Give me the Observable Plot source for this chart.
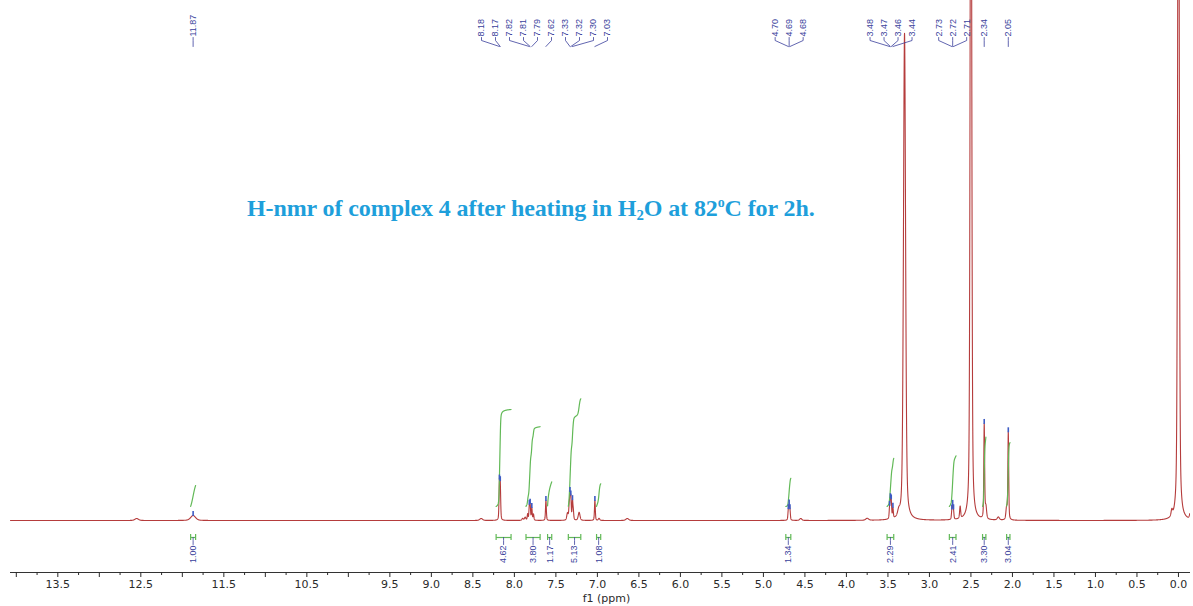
<!DOCTYPE html>
<html>
<head>
<meta charset="utf-8">
<script src="https://cdn.jsdelivr.net/npm/d3@7"></script>
<script src="https://cdn.jsdelivr.net/npm/@observablehq/plot@0.6"></script>
<style>
  html, body { margin: 0; padding: 0; background: #fff; }
  #wrap { position: relative; width: 1193px; height: 606px; overflow: hidden; }
  #title {
    position: absolute; left: 247px; top: 195px; white-space: nowrap;
    font-family: "Liberation Serif", "Times New Roman", serif; font-weight: bold;
    font-size: 24px; line-height: 26px; color: #1e9fdb; letter-spacing: -0.1px;
  }
  #title sub { font-size: 62%; vertical-align: baseline; position: relative; top: 0.28em; }
  #title sup { font-size: 58%; vertical-align: baseline; position: relative; top: -0.62em; }
</style>
</head>
<body>
<div id="wrap">
  <div id="chart"></div>
  <div id="title">H-nmr of complex 4 after heating in H<sub>2</sub>O at 82<sup>o</sup>C for 2h.</div>
</div>
<script>
// ---------------- data ----------------
// spectrum peaks: chemical shift (ppm), height (intensity units), line width FWHM (ppm)
const peakPpm    = [12.55, 11.87, 8.40, 8.18, 8.17, 7.90, 7.87, 7.84, 7.82, 7.81, 7.79, 7.77, 7.62, 7.36, 7.34, 7.33, 7.32, 7.30, 7.29, 7.22, 7.03, 6.98, 6.64,
                    4.70, 4.69, 4.68, 4.55, 3.75, 3.48, 3.47, 3.46, 3.44, 3.37, 3.30, 2.73, 2.72, 2.71, 2.63, 2.50, 2.34, 2.32, 2.17, 2.07, 2.05, 0.08, 0.00, -0.14];
const peakHeight = [2, 5, 2, 35, 33, 2, 3, 6, 13, 14, 12, 6, 20, 7, 12, 22, 20, 18, 8, 8, 20, 2, 2,
                    9, 13, 9, 2, 2, 10, 16, 16, 10, 5, 487, 8, 12, 8, 12, 900, 94, 12, 3, 12, 87, 6, 900, 5];
const peakWidth  = [0.05, 0.07, 0.04, 0.012, 0.012, 0.02, 0.02, 0.012, 0.012, 0.012, 0.012, 0.012, 0.012, 0.02, 0.012, 0.012, 0.012, 0.012, 0.012, 0.025, 0.012, 0.02, 0.04,
                    0.012, 0.012, 0.012, 0.03, 0.04, 0.012, 0.012, 0.012, 0.012, 0.03, 0.03, 0.012, 0.012, 0.012, 0.015, 0.021, 0.012, 0.02, 0.03, 0.02, 0.012, 0.02, 0.021, 0.02];

// peak-picking labels (ppm)
const labelPpm = [11.87, 8.18, 8.17, 7.82, 7.81, 7.79, 7.62, 7.33, 7.32, 7.30, 7.03,
                  4.70, 4.69, 4.68, 3.48, 3.47, 3.46, 3.44, 2.73, 2.72, 2.71, 2.34, 2.05];

// integrals
const integralFrom  = [11.90, 8.22, 7.86, 7.60, 7.35, 7.01, 4.73, 3.51, 2.76, 2.36, 2.07];
const integralTo    = [11.84, 8.04, 7.69, 7.55, 7.20, 6.96, 4.67, 3.43, 2.68, 2.32, 2.03];
const integralValue = [1.00, 4.62, 3.80, 1.17, 5.13, 1.08, 1.34, 2.29, 2.41, 3.30, 3.04];

// axis
const tickLabelled = [13.5, 12.5, 11.5, 10.5, 9.5, 9.0, 8.5, 8.0, 7.5, 7.0, 6.5, 6.0, 5.5, 5.0, 4.5, 4.0, 3.5, 3.0, 2.5, 2.0, 1.5, 1.0, 0.5, 0.0];
const axisTitle = "f1 (ppm)";

// ---------------- layout / style ----------------
const W = 1193, H = 606;
const mL = 10, mR = 3, mT = 0, mB = 34;
const xDomain = [14.07, -0.145];
const yDomain = [-52, 520];
const RED = "#b53c3c", GREEN = "#62b957", BLUE = "#3a3f9c";
const ETA = 0.4;

const xs = d3.scaleLinear(xDomain, [mL, W - mR]);
const ys = d3.scaleLinear(yDomain, [H - mB, mT]);

function shape(x, x0, h, w) {
  const t = (x - x0) / (w / 2);
  return h * (ETA / (1 + t * t) + (1 - ETA) * Math.exp(-Math.LN2 * t * t));
}
function spec(x) {
  let s = 0;
  for (let i = 0; i < peakPpm.length; i++) s += shape(x, peakPpm[i], peakHeight[i], peakWidth[i]);
  return s;
}

// spectrum trace
const step = 0.001;
const grid = d3.range(xDomain[0], xDomain[1], -step).concat(peakPpm);
grid.sort((a, b) => b - a);
const spectrum = grid.map(p => ({ppm: p, v: spec(p)}));

// spread labels so they do not overlap (pixel gap)
function spread(ideal, gap) {
  let groups = ideal.map((v, i) => ({s: i, e: i}));
  const center = g => d3.mean(ideal.slice(g.s, g.e + 1));
  let changed = true;
  while (changed) {
    changed = false;
    for (let k = 0; k < groups.length - 1; k++) {
      const a = groups[k], b = groups[k + 1];
      const aEnd = center(a) + (a.e - a.s) * gap / 2;
      const bStart = center(b) - (b.e - b.s) * gap / 2;
      if (bStart - aEnd < gap) {
        groups.splice(k, 2, {s: a.s, e: b.e});
        changed = true;
        break;
      }
    }
  }
  const out = [];
  for (const g of groups) {
    const c = center(g), n = g.e - g.s + 1;
    for (let i = 0; i < n; i++) out.push(c + (i - (n - 1) / 2) * gap);
  }
  return out;
}

// top labels
const topPx = spread(labelPpm.map(p => xs(p)), 14);
const topLabels = labelPpm.map((p, i) => ({ppm: p, lx: xs.invert(topPx[i]), text: p.toFixed(2)}));
const yText = ys.invert(36), yBend = ys.invert(40), yEnd = ys.invert(46);
const topConn = topLabels.flatMap((d, i) => [
  {id: i, x: d.lx, y: ys.invert(37)}, {id: i, x: d.lx, y: yBend}, {id: i, x: d.ppm, y: yEnd}
]);
const apexMarks = labelPpm.map(p => ({ppm: p, y1: spec(p) - 1, y2: spec(p) + 4}));

// integral curves
const integralCurves = [];
integralFrom.forEach((a, k) => {
  const b = integralTo[k];
  const pts = d3.range(a, b - 1e-9, -0.0005);
  const vals = pts.map(spec);
  const total = d3.sum(vals);
  let acc = 0;
  const base = 14, rise = integralValue[k] * 21;
  pts.forEach((p, j) => {
    acc += vals[j];
    integralCurves.push({id: k, ppm: p, v: base + rise * acc / total});
  });
});

// integral brackets & labels
const yBr = ys.invert(537);
const integrals = integralValue.map((v, k) => ({
  from: integralFrom[k], to: integralTo[k], mid: (integralFrom[k] + integralTo[k]) / 2, text: v.toFixed(2)
}));
const intPx = spread(integrals.map(d => xs(d.mid)), 12);
integrals.forEach((d, k) => d.lx = xs.invert(intPx[k]));
const intConn = integrals.flatMap((d, k) => [
  {id: k, x: d.mid, y: yBr}, {id: k, x: d.mid, y: ys.invert(540)}, {id: k, x: d.lx, y: ys.invert(544)}
]);
const caps = integrals.flatMap(d => [{x: d.from}, {x: d.to}]);

// ticks
const allTicks = d3.range(0, 14.01, 0.25).map(v => Math.round(v * 100) / 100);
const halfTicks = allTicks.filter(v => Math.abs(v * 2 - Math.round(v * 2)) < 1e-6);
const quarterTicks = allTicks.filter(v => !halfTicks.includes(v));
const labelledSet = new Set(tickLabelled.map(v => Math.round(v * 10)));

const chart = Plot.plot({
  width: W, height: H,
  marginLeft: mL, marginRight: mR, marginTop: mT, marginBottom: mB,
  x: {domain: xDomain},
  y: {domain: yDomain, axis: null},
  style: {fontFamily: "DejaVu Sans, Verdana, sans-serif", fontSize: "11px", color: "#2a2a2a", background: "#fff"},
  marks: [
    // spectrum
    Plot.line(spectrum, {x: "ppm", y: "v", stroke: RED, strokeWidth: 1.1, clip: true}),
    // integral curves
    Plot.line(integralCurves, {x: "ppm", y: "v", z: "id", stroke: GREEN, strokeWidth: 1.2, clip: true}),
    // apex markers
    Plot.ruleX(apexMarks, {x: "ppm", y1: "y1", y2: "y2", stroke: "#3d5bc4", strokeWidth: 1.6, clip: true}),
    // top labels
    Plot.line(topConn, {x: "x", y: "y", z: "id", stroke: BLUE, strokeWidth: 0.8}),
    Plot.text(topLabels, {x: "lx", y: () => yText, text: "text", rotate: -90, textAnchor: "start",
      fontSize: 9, fill: BLUE, fontFamily: "Liberation Sans, Arial, sans-serif"}),
    // integral brackets
    Plot.link(integrals, {x1: "from", x2: "to", y1: () => yBr, y2: () => yBr, stroke: GREEN, strokeWidth: 1.2}),
    Plot.ruleX(caps, {x: "x", y1: () => ys.invert(534), y2: () => ys.invert(540), stroke: GREEN, strokeWidth: 1.2}),
    Plot.line(intConn, {x: "x", y: "y", z: "id", stroke: BLUE, strokeWidth: 0.8}),
    Plot.text(integrals, {x: "lx", y: () => ys.invert(545), text: "text", rotate: -90, textAnchor: "end",
      fontSize: 9, fill: BLUE, fontFamily: "Liberation Sans, Arial, sans-serif"}),
    // axis
    Plot.ruleY([yDomain[0]], {stroke: "#333", strokeWidth: 1}),
    Plot.axisX({ticks: quarterTicks, tickSize: 3, tickFormat: () => "", label: null}),
    Plot.axisX({ticks: halfTicks, tickSize: 5, tickPadding: 3, label: null,
      tickFormat: d => labelledSet.has(Math.round(d * 10)) ? d.toFixed(1) : ""}),
    Plot.text([axisTitle], {frameAnchor: "bottom", dx: 6, dy: 29, fontSize: 11, fill: "#2a2a2a"})
  ]
});
document.getElementById("chart").appendChild(chart);
</script>
</body>
</html>
